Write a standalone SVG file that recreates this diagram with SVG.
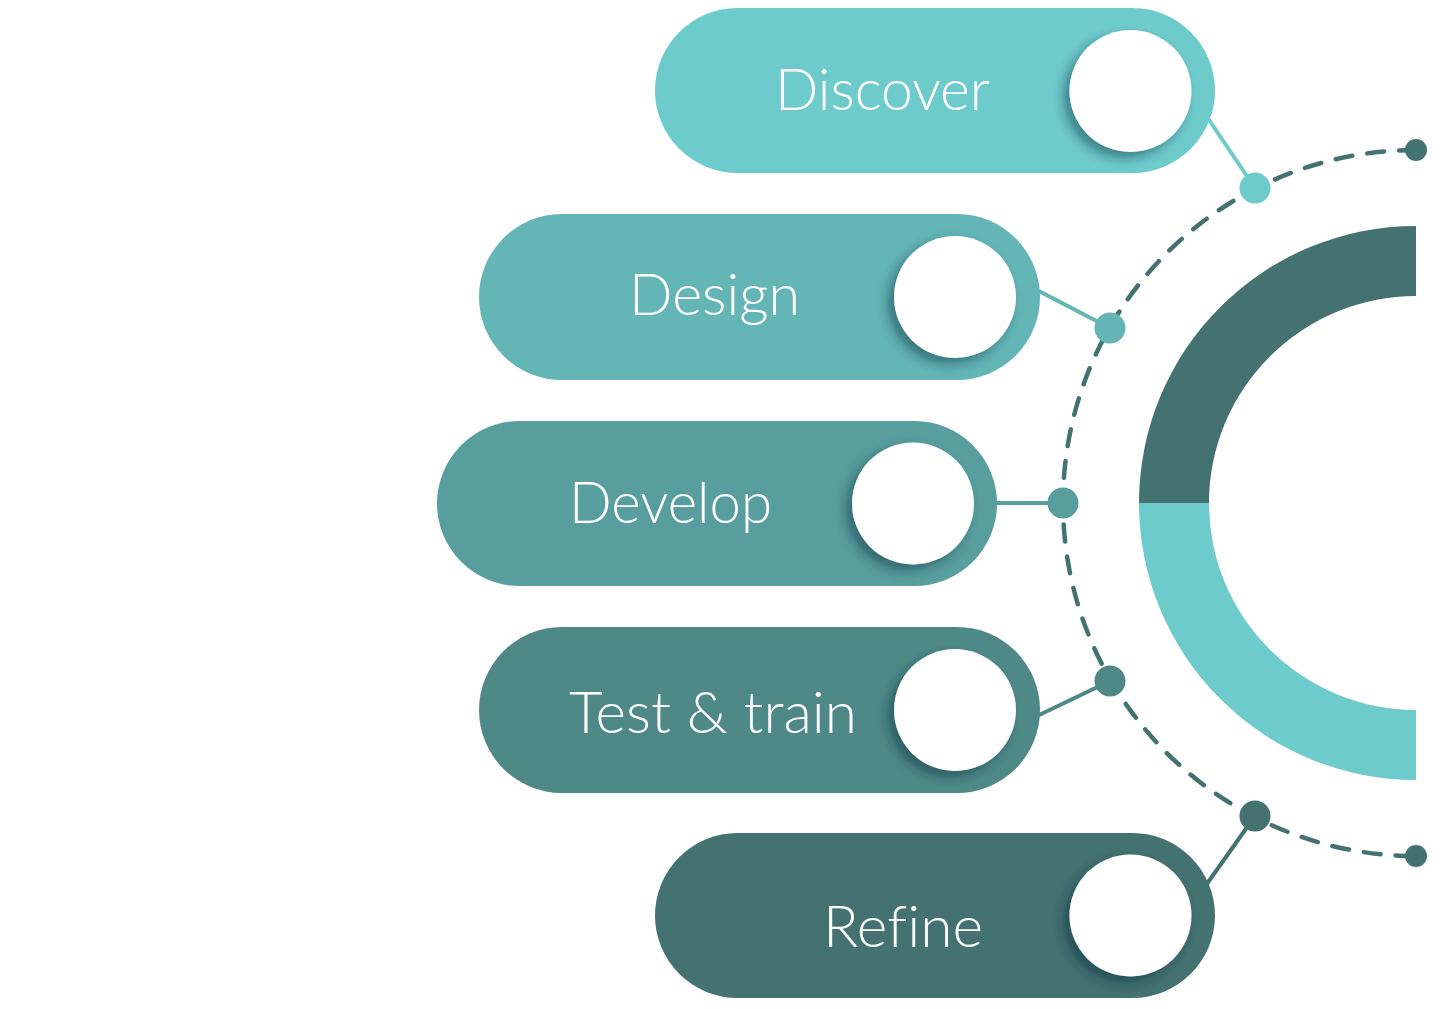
<svg xmlns="http://www.w3.org/2000/svg" width="1445" height="1009" viewBox="0 0 1445 1009">
<defs>
<filter id="sh" x="-30%" y="-30%" width="160%" height="160%">
<feDropShadow dx="-6" dy="6" stdDeviation="6" flood-color="#123" flood-opacity="0.45"/>
</filter>
<style>
.lbl{font-family:Lato,"Open Sans",sans-serif;font-weight:300;font-size:57px;fill:#fff;text-anchor:middle;font-variant-ligatures:none;font-feature-settings:"liga" 0}
.hole{fill:#fff;filter:url(#sh)}
.dash{fill:none;stroke:#437271;stroke-width:4.5;stroke-dasharray:17 15;stroke-linecap:round}
</style>
</defs>
<rect width="1445" height="1009" fill="#fff"/>
<g id="ring">
<path d="M1416 226 A277 277 0 0 0 1139 503 L1209 503 A207 207 0 0 1 1416 296 Z" fill="#437271"/>
<path d="M1139 503 A277 277 0 0 0 1416 780 L1416 710 A207 207 0 0 1 1209 503 Z" fill="#6ECBCC"/>
</g>
<g id="connectors">
<path class="dash" d="M1416 150 A353 353 0 0 0 1416 856"/>
<circle cx="1416" cy="150" r="11" fill="#437271"/>
<circle cx="1416" cy="856" r="11" fill="#437271"/>
<line x1="1205" y1="114" x2="1255" y2="188" stroke="#6ECBCC" stroke-width="4"/>
<circle cx="1255" cy="188" r="15.5" fill="#6ECBCC"/>
<line x1="1035" y1="289" x2="1110" y2="328" stroke="#63B5B6" stroke-width="4"/>
<circle cx="1110" cy="328" r="15.5" fill="#63B5B6"/>
<line x1="992" y1="503" x2="1063" y2="503" stroke="#589E9E" stroke-width="4"/>
<circle cx="1063" cy="503" r="15.5" fill="#589E9E"/>
<line x1="1035" y1="717" x2="1110" y2="681" stroke="#4E8988" stroke-width="4"/>
<circle cx="1110" cy="681" r="15.5" fill="#4E8988"/>
<line x1="1204" y1="888" x2="1255" y2="816" stroke="#437271" stroke-width="4"/>
<circle cx="1255" cy="816" r="15.5" fill="#437271"/>
</g>
<g id="discover">
<rect x="655" y="8" width="560" height="165" rx="82.5" fill="#6ECBCC"/>
<circle class="hole" cx="1130.5" cy="91" r="61"/>
<text class="lbl" x="882.5" y="110" textLength="215" lengthAdjust="spacingAndGlyphs">Discover</text>
</g>
<g id="design">
<rect x="479" y="214" width="561" height="166" rx="83" fill="#63B5B6"/>
<circle class="hole" cx="955" cy="297" r="61"/>
<text class="lbl" x="714.5" y="315" textLength="171" lengthAdjust="spacingAndGlyphs">Design</text>
</g>
<g id="develop">
<rect x="437" y="421" width="560" height="165" rx="82.5" fill="#589E9E"/>
<circle class="hole" cx="913" cy="503.5" r="61"/>
<text class="lbl" x="670.5" y="523" textLength="203" lengthAdjust="spacingAndGlyphs">Develop</text>
</g>
<g id="test-train">
<rect x="479" y="627" width="561" height="166" rx="83" fill="#4E8988"/>
<circle class="hole" cx="955" cy="710" r="61"/>
<text class="lbl" x="713" y="733" textLength="288" lengthAdjust="spacingAndGlyphs">Test &amp; train</text>
</g>
<g id="refine">
<rect x="655" y="833" width="560" height="165" rx="82.5" fill="#437271"/>
<circle class="hole" cx="1130.5" cy="915.5" r="61"/>
<text class="lbl" x="903" y="947" textLength="160" lengthAdjust="spacingAndGlyphs">Refine</text>
</g>
</svg>
